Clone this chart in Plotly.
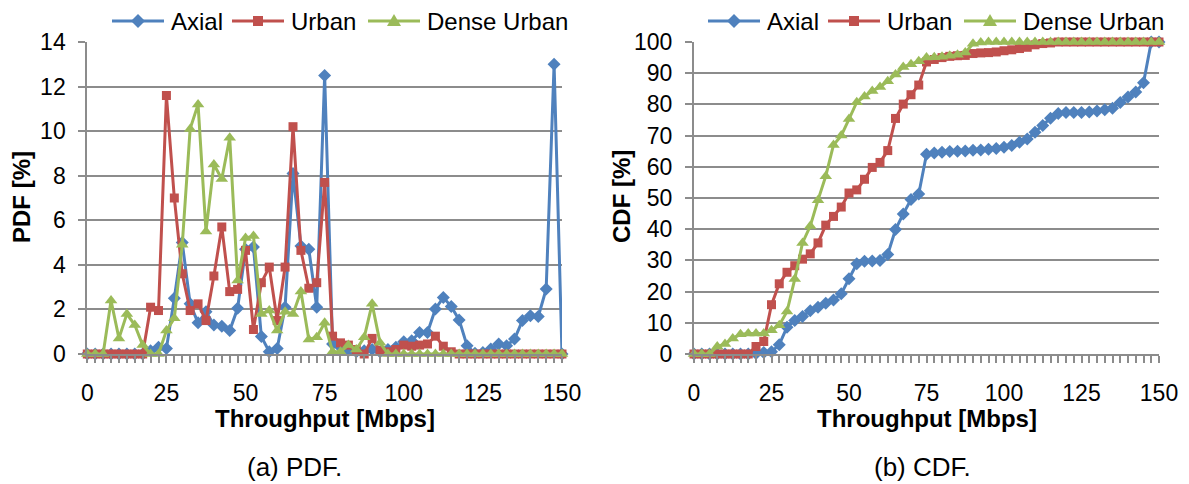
import plotly.graph_objects as go

# Throughput bins (Mbps)
throughput = [0, 2.5, 5, 7.5, 10, 12.5, 15, 17.5, 20, 22.5,
              25, 27.5, 30, 32.5, 35, 37.5, 40, 42.5, 45, 47.5,
              50, 52.5, 55, 57.5, 60, 62.5, 65, 67.5, 70, 72.5,
              75, 77.5, 80, 82.5, 85, 87.5, 90, 92.5, 95, 97.5,
              100, 102.5, 105, 107.5, 110, 112.5, 115, 117.5, 120, 122.5,
              125, 127.5, 130, 132.5, 135, 137.5, 140, 142.5, 145, 147.5,
              150]

x_ticks = [0, 25, 50, 75, 100, 125, 150]

# PDF [%]
pdf_axial = [0, 0, 0, 0, 0, 0, 0, 0, 0.15, 0.3,
             0.25, 2.5, 5.0, 2.25, 1.4, 1.9, 1.3, 1.25, 1.05, 2.05,
             4.7, 4.8, 0.78, 0.1, 0.25, 2.1, 8.1, 4.85, 4.7, 2.1,
             12.5, 0.45, 0.3, 0.15, 0.1, 0.15, 0.2, 0.1, 0.2, 0.3,
             0.55, 0.6, 0.97, 0.97, 2.02, 2.54, 2.13, 1.53, 0.37, 0.03,
             0.07, 0.22, 0.45, 0.37, 0.67, 1.5, 1.72, 1.68, 2.92, 13.0,
             0]
pdf_urban = [0, 0, 0, 0, 0, 0, 0, 0, 2.1, 1.95,
             11.6, 7.0, 3.6, 1.95, 2.25, 1.5, 3.5, 5.7, 2.8, 2.9,
             4.65, 1.1, 3.2, 3.9, 1.5, 3.9, 10.2, 4.65, 2.95, 3.2,
             7.7, 0.8, 0.5, 0.4, 0.2, 0, 0.7, 0.15, 0.1, 0.2,
             0.4, 0.35, 0.4, 0.45, 0.8, 0.35, 0.1, 0, 0, 0,
             0, 0, 0, 0, 0, 0, 0, 0, 0, 0,
             0]
pdf_dense = [0, 0, 0, 2.4, 0.7, 1.8, 1.3, 0.4, 0, 0,
             1.05, 1.6, 4.9, 10.1, 11.2, 5.5, 8.5, 7.85, 9.7, 3.3,
             5.2, 5.3, 1.8, 1.95, 1.05, 1.9, 1.8, 2.8, 0.65, 0.75,
             1.4, 0.1, 0.1, 0.4, 0.2, 0.75, 2.25, 0.5, 0, 0,
             0, 0, 0, 0, 0, 0, 0, 0, 0, 0,
             0, 0, 0, 0, 0, 0, 0, 0, 0, 0,
             0]

# CDF [%]
cdf_axial = [0, 0, 0, 0, 0, 0, 0, 0, 0.2, 0.5,
             0.7, 3.0, 8.6, 10.7, 12.0, 13.9, 15.0, 16.3, 17.3, 19.3,
             24.1, 28.9, 29.7, 29.8, 30.0, 31.9, 39.9, 44.9, 49.5, 51.3,
             64.0, 64.4, 64.7, 64.9, 65.0, 65.1, 65.3, 65.4, 65.6, 65.9,
             66.3, 66.8, 67.9, 68.9, 71.1, 73.2, 75.6, 77.1, 77.4, 77.4,
             77.4, 77.6, 77.9, 78.3, 78.8, 80.6, 82.4, 84.0, 86.9, 100,
             100]
cdf_urban = [0, 0, 0, 0, 0, 0, 0, 0, 2.4, 4.0,
             15.8, 22.5, 26.2, 28.3, 30.4, 32.1, 35.6, 41.3, 44.1, 47.1,
             51.6, 52.6, 56.0, 59.8, 61.4, 65.2, 75.5, 80.1, 83.1, 86.2,
             93.6, 94.4, 95.0, 95.4, 95.6, 95.7, 96.3, 96.5, 96.6, 96.8,
             97.2, 97.5, 97.9, 98.3, 99.1, 99.5, 99.7, 100, 100, 100,
             100, 100, 100, 100, 100, 100, 100, 100, 100, 100,
             100]
cdf_dense = [0, 0, 0, 2.4, 3.2, 5.0, 6.3, 6.6, 6.6, 6.6,
             7.6, 9.2, 13.6, 24.0, 35.6, 41.0, 49.3, 57.0, 67.0, 70.0,
             75.3, 80.7, 82.5, 84.3, 85.6, 87.4, 89.6, 92.0, 92.9, 93.8,
             95.0, 95.1, 95.3, 95.6, 95.9, 96.6, 99.4, 99.8, 100, 100,
             100, 100, 100, 100, 100, 100, 100, 100, 100, 100,
             100, 100, 100, 100, 100, 100, 100, 100, 100, 100,
             100]

series_names = ["Axial", "Urban", "Dense Urban"]
pdf_series = [pdf_axial, pdf_urban, pdf_dense]
cdf_series = [cdf_axial, cdf_urban, cdf_dense]
colors = ["#4F81BD", "#C0504D", "#9BBB59"]
symbols = ["diamond", "square", "triangle-up"]
marker_sizes = [10, 9, 11]
# legend key glyphs (pixel paths, y up)
key_paths = ["M-7,0 L0,7 L7,0 L0,-7 Z",
             "M-5,-5 L5,-5 L5,5 L-5,5 Z",
             "M-7,-5 L7,-5 L0,7 Z"]

FONT = "Liberation Sans, Arial, sans-serif"
GRID = "#8C8C8C"
W, H = 1189, 484

fig = go.Figure()
for name, p, c, col, sym, ms in zip(series_names, pdf_series, cdf_series,
                                     colors, symbols, marker_sizes):
    style = dict(mode="lines+markers", name=name, showlegend=False,
                 line=dict(color=col, width=3),
                 marker=dict(symbol=sym, size=ms, color=col, line=dict(width=0)),
                 cliponaxis=False)
    fig.add_trace(go.Scatter(x=throughput, y=p, xaxis="x", yaxis="y", **style))
    fig.add_trace(go.Scatter(x=throughput, y=c, xaxis="x2", yaxis="y2", **style))


def px_x(v):
    return v / W


def px_y(v):
    return 1 - v / H


def xaxis_style(domain, anchor):
    return dict(domain=domain, anchor=anchor, range=[0, 150], automargin=False,
                tickmode="array", tickvals=x_ticks,
                ticks="outside", ticklen=7, tickwidth=1.5, tickcolor=GRID,
                minor=dict(dtick=2.5, tick0=0, ticks="outside", ticklen=7,
                           tickwidth=1.5, tickcolor=GRID, showgrid=False),
                showline=True, linecolor=GRID, linewidth=2,
                showgrid=False, zeroline=False, ticklabelstandoff=10,
                tickfont=dict(size=23, color="black", family=FONT))


def yaxis_style(domain, anchor, rng, dtick):
    return dict(domain=domain, anchor=anchor, range=rng, dtick=dtick,
                automargin=False,
                ticks="outside", ticklen=7, tickwidth=1.5, tickcolor=GRID,
                showline=True, linecolor=GRID, linewidth=2,
                showgrid=True, gridcolor=GRID, gridwidth=2,
                zeroline=False, ticklabelstandoff=8,
                tickfont=dict(size=23, color="black", family=FONT))


ydom = [px_y(354), px_y(42)]
fig.update_layout(
    width=W, height=H,
    margin=dict(l=0, r=0, t=0, b=0),
    paper_bgcolor="white", plot_bgcolor="white",
    font=dict(family=FONT, size=23, color="black"),
    xaxis=xaxis_style([px_x(87.3), px_x(562)], "y"),
    yaxis=yaxis_style(ydom, "x", [0, 14], 2),
    xaxis2=xaxis_style([px_x(694), px_x(1159)], "y2"),
    yaxis2=yaxis_style(ydom, "x2", [0, 100], 10),
    showlegend=False,
)

# Legend keys: line sample with centred marker, then the series name
shapes = []
annotations = []
legend_y = 21
key_starts = [112, 232, 368]
key_len = 52
for panel_offset in (0, 596):
    for name, col, path, start in zip(series_names, colors, key_paths, key_starts):
        x0 = start + panel_offset
        shapes.append(dict(type="line", xref="paper", yref="paper",
                           x0=px_x(x0), x1=px_x(x0 + key_len),
                           y0=px_y(legend_y), y1=px_y(legend_y),
                           line=dict(color=col, width=3)))
        shapes.append(dict(type="path", xref="paper", yref="paper",
                           xsizemode="pixel", ysizemode="pixel",
                           xanchor=px_x(x0 + key_len / 2), yanchor=px_y(legend_y),
                           path=path, fillcolor=col, line=dict(width=0)))
        annotations.append(dict(text=name, x=px_x(x0 + key_len + 5),
                                y=px_y(legend_y), xanchor="left",
                                yanchor="middle", font=dict(size=24)))

annotations += [
    dict(text="<b>PDF [%]</b>", x=px_x(22), y=px_y(197), textangle=-90),
    dict(text="<b>CDF [%]</b>", x=px_x(622), y=px_y(197), textangle=-90),
    dict(text="<b>Throughput [Mbps]</b>", x=px_x(324.5), y=px_y(418)),
    dict(text="<b>Throughput [Mbps]</b>", x=px_x(926.5), y=px_y(418)),
    dict(text="(a) PDF.", x=px_x(294), y=px_y(467), font=dict(size=26)),
    dict(text="(b) CDF.", x=px_x(922), y=px_y(467), font=dict(size=26)),
]
for a in annotations:
    a.update(xref="paper", yref="paper", showarrow=False)
    a.setdefault("xanchor", "center")
    a.setdefault("yanchor", "middle")
    a.setdefault("font", dict(size=24))
fig.update_layout(shapes=shapes, annotations=annotations)

fig.write_html("out.html")
